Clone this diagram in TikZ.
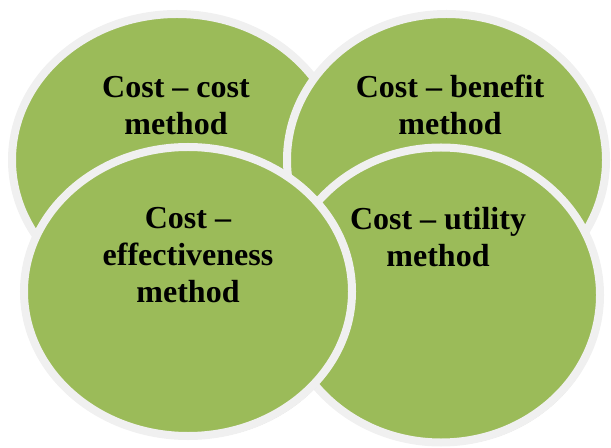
\documentclass[tikz,border=0pt]{standalone}
\usepackage{fontspec}
\setmainfont{Liberation Serif}
\usetikzlibrary{shapes.geometric,shadows}
\definecolor{leaf}{RGB}{155,187,89}
\definecolor{rim}{RGB}{240,240,240}
\definecolor{shade}{RGB}{110,125,85}
\tikzset{
  bubble/.style={ellipse, inner sep=0pt, fill=leaf, draw=rim, line width=8bp,
    drop shadow={shadow xshift=2bp, shadow yshift=-3bp, fill=shade, opacity=0.6}},
  caption/.style={align=center, anchor=base, inner sep=0pt,
    font=\fontsize{32bp}{37bp}\selectfont\bfseries}
}
\begin{document}
\begin{tikzpicture}[x=1bp, y=-1bp]
  \useasboundingbox (0,0) rectangle (611,448);
  \clip (0,0) rectangle (611,448);
  % four overlapping methods, back to front
  \node[bubble, minimum width=330bp, minimum height=292bp] (tl) at (177,160) {};
  \node[bubble, minimum width=319bp, minimum height=292bp] (tr) at (446.5,160) {};
  \node[bubble, minimum width=318bp, minimum height=295bp] (br) at (441,295) {};
  \node[bubble, minimum width=328bp, minimum height=289bp] (bl) at (188,291.5) {};
  % labels (anchored on the baseline of their last line)
  \node[caption] (tltext) at (176,135) {Cost – cost\\method};
  \node[caption] (trtext) at (450,135) {Cost – benefit\\method};
  \node[caption] (bltext) at (188,303) {Cost –\\effectiveness\\method};
  \node[caption] (brtext) at (438,267) {Cost – utility\\method};
\end{tikzpicture}
\end{document}
